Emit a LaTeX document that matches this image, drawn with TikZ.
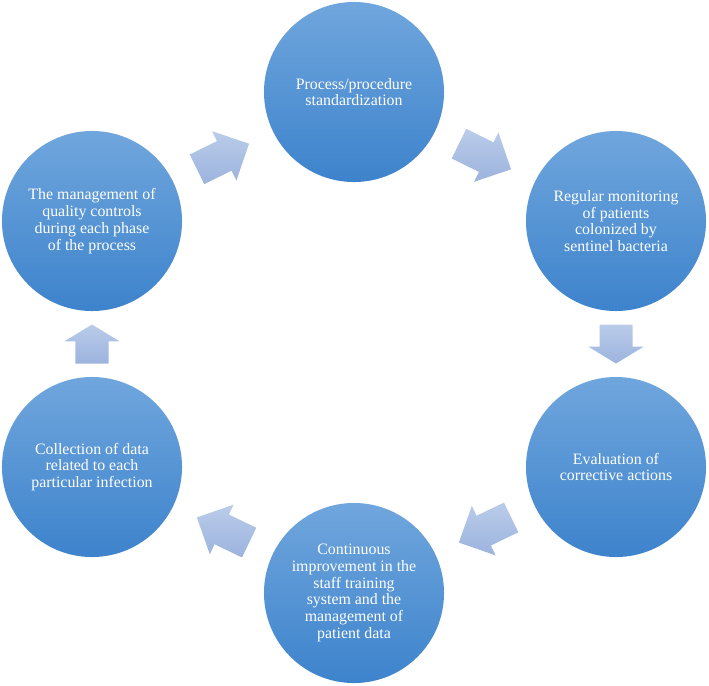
\documentclass[tikz,border=0pt]{standalone}
\usepackage{fontspec}
\setmainfont{Liberation Serif}
\usetikzlibrary{calc}
\definecolor{CircTopClr}{RGB}{112,166,221}
\definecolor{CircBotClr}{RGB}{61,131,204}
\definecolor{ArrTopClr}{RGB}{186,204,234}
\definecolor{ArrBotClr}{RGB}{156,179,221}

\tikzset{
  stage/.style={circle,minimum size=4.5cm,inner sep=0pt,top color=CircTopClr,bottom color=CircBotClr,
    text=white,align=center,font=\fontsize{11.3}{11.9}\selectfont},
  flowarrow/.style={top color=ArrTopClr,bottom color=ArrBotClr}
}

\begin{document}
\begin{tikzpicture}[x=0.025cm,y=-0.025cm]
\useasboundingbox (0,0) rectangle (709,685);

\node[stage] (Std) at (354,92) {Process/procedure\\standardization};
\node[stage] (Mon) at (616,221) {Regular monitoring\\of patients\\colonized by\\sentinel bacteria};
\node[stage] (Eval) at (616,467) {Evaluation of\\corrective actions};
\node[stage] (Impr) at (354,593) {Continuous\\improvement in the\\staff training\\system and the\\management of\\patient data};
\node[stage] (Coll) at (92,467) {Collection of data\\related to each\\particular infection};
\node[stage] (Qual) at (92,221) {The management of\\quality controls\\during each phase\\of the process};

% block arrows halfway between the stages
\foreach \a/\b/\len/\head in {Qual/Std/1.45/0.69, Std/Mon/1.45/0.69, Mon/Eval/0.975/0.42,
    Eval/Impr/1.45/0.69, Impr/Coll/1.45/0.69, Coll/Qual/0.975/0.42}{
  \coordinate (\a-mid) at ($(\a)!0.5!(\b)$);
  \coordinate (\a-tail) at ($(\a-mid)!{-0.5*\len cm}!(\b)$);
  \coordinate (\a-tip) at ($(\a-mid)!{0.5*\len cm}!(\b)$);
  \coordinate (\a-neck) at ($(\a-tip)!\head cm!(\a-mid)$);
  \path[flowarrow] ($(\a-tail)!0.4125cm!90:(\b)$) -- ($(\a-neck)!0.4125cm!90:(\b)$)
    -- ($(\a-neck)!0.6875cm!90:(\b)$) -- (\a-tip) -- ($(\a-neck)!0.6875cm!-90:(\b)$)
    -- ($(\a-neck)!0.4125cm!-90:(\b)$) -- ($(\a-tail)!0.4125cm!-90:(\b)$) -- cycle;
}

\end{tikzpicture}
\end{document}
